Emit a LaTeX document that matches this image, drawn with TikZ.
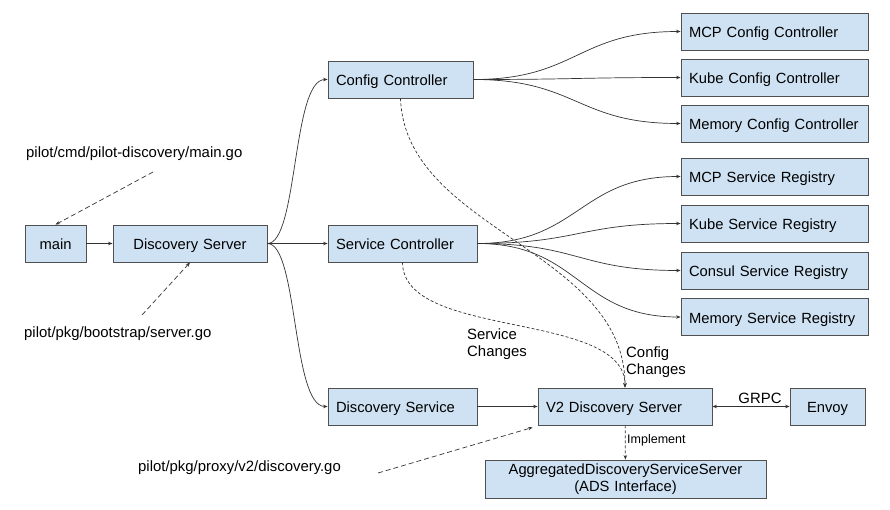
\documentclass[tikz,border=0pt]{standalone}
\usepackage{fontspec}
\setmainfont{Liberation Sans}
\usetikzlibrary{arrows.meta}
\definecolor{boxfill}{HTML}{CFE2F3}
\definecolor{boxline}{HTML}{505050}
\definecolor{lncol}{HTML}{333333}
\begin{document}
\begin{tikzpicture}[x=1pt,y=-1pt,
  box/.style={draw=boxline, fill=boxfill, line width=0.8pt, minimum height=37pt,
    inner xsep=8pt, inner ysep=0pt, font=\fontsize{14.75}{17}\selectfont, text=black},
  lbox/.style={box, align=left, text height=13pt, text depth=1pt},
  cbox/.style={box, align=center, text height=13pt, text depth=1pt},
  mbox/.style={box, align=center},
  conn/.style={draw=lncol, line width=0.7pt, -{Stealth[length=4.5pt,width=3.5pt]}},
  dconn/.style={conn, dash pattern=on 5pt off 3pt},
  fdconn/.style={conn, dash pattern=on 3pt off 2pt},
  lbl/.style={font=\fontsize{14.9}{17.5}\selectfont, inner sep=0pt, align=left, text=black},
  slbl/.style={font=\fontsize{12.5}{14}\selectfont, inner sep=0pt, align=left, text=black}]
\useasboundingbox[fill=white] (0,0) rectangle (890,510);

% boxes
\node[cbox, text width=45pt] (main) at (55.5,243.5) {main};
\node[cbox, text width=138pt] (ds) at (190,243.5) {Discovery Server};
\node[lbox, text width=129pt] (cc) at (400.5,79.5) {\mbox{Config Controller}};
\node[lbox, text width=133pt] (sc) at (402.5,243.5) {\mbox{Service Controller}};
\node[lbox, text width=133pt] (dsvc) at (402.5,406.5) {\mbox{Discovery Service}};
\node[lbox, text width=158pt] (v2) at (625,406.5) {\mbox{V2 Discovery Server}};
\node[cbox, text width=59pt] (envoy) at (827.5,406.5) {Envoy};
\node[mbox, text width=265pt, minimum height=38pt] (ads) at (625.5,479) {\rule{0pt}{12pt}AggregatedDiscoveryServiceServer\\(ADS Interface)};

\node[lbox, text width=171pt] (mcpc) at (774.5,31.5) {\mbox{MCP Config Controller}};
\node[lbox, text width=171pt] (kubec) at (774.5,77.5) {\mbox{Kube Config Controller}};
\node[lbox, text width=171pt] (memc) at (774.5,123.5) {\mbox{Memory Config Controller}};
\node[lbox, text width=171pt] (mcps) at (774.5,176.5) {\mbox{MCP Service Registry}};
\node[lbox, text width=171pt] (kubes) at (774.5,223.5) {\mbox{Kube Service Registry}};
\node[lbox, text width=171pt] (consuls) at (774.5,270.5) {\mbox{Consul Service Registry}};
\node[lbox, text width=171pt] (mems) at (774.5,317) {\mbox{Memory Service Registry}};

% labels
\node[lbl, anchor=west] (lmain) at (26,154) {pilot/cmd/pilot-discovery/main.go};
\node[lbl, anchor=west] (lserver) at (24,334) {pilot/pkg/bootstrap/server.go};
\node[lbl, anchor=west] (ldisc) at (138,468) {pilot/pkg/proxy/v2/discovery.go};
\node[lbl, anchor=west] (lsvc) at (467,344) {Service\\Changes};
\node[lbl, anchor=west] (lcfg) at (626,362) {Config\\Changes};
\node[lbl] (lgrpc) at (760,398) {GRPC};
\node[slbl, anchor=west] (limpl) at (627,440) {Implement};

% free ends of label arrows
\coordinate (pmain) at (153,172);
\coordinate (pserver) at (142,315);
\coordinate (pdisc) at (378,473);

% main flow
\draw[conn] (main) -- (ds);
\draw[conn] (ds.east) .. controls (298,243.5) and (292,79.5) .. (cc.west);
\draw[conn] (ds.east) -- (sc.west);
\draw[conn] (ds.east) .. controls (298,243.5) and (292,406.5) .. (dsvc.west);
\draw[conn] (dsvc) -- (v2);
\draw[conn, {Stealth[length=4.5pt,width=3.5pt]}-{Stealth[length=4.5pt,width=3.5pt]}] (v2) -- (envoy);

% config fan
\foreach \t in {mcpc,kubec,memc}{
  \draw[conn] (cc.east) .. controls (577,79.5) and (577,0|-\t.west) .. (\t.west);
}
% service fan
\foreach \t in {mcps,kubes,consuls,mems}{
  \draw[conn] (sc.east) .. controls (579,243.5) and (579,0|-\t.west) .. (\t.west);
}

% change notifications
\draw[fdconn] (cc.south) .. controls (405,230) and (625,250) .. (v2.north);
\draw[fdconn] (sc.south) .. controls (403,340) and (625,310) .. (v2.north);
\draw[fdconn] (v2) -- (ads);

% label arrows
\draw[dconn] (pmain) -- (main.north);
\draw[dconn] (pserver) -- (ds.south);
\draw[dconn] (pdisc) -- ([xshift=-5pt,yshift=-2pt]v2.south west);
\end{tikzpicture}
\end{document}
